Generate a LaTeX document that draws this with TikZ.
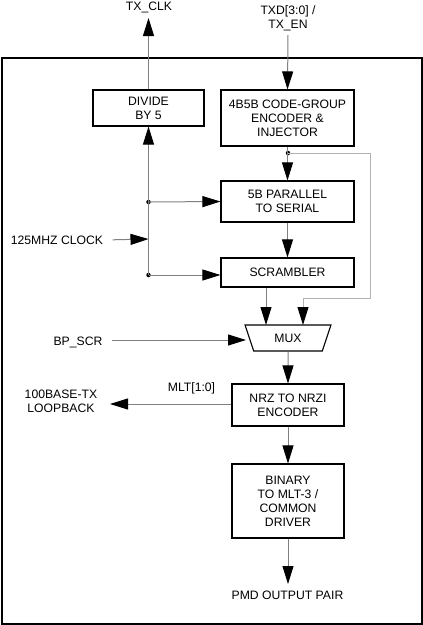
\documentclass[tikz,border=0pt]{standalone}
\usepackage{fontspec}
\setmainfont{Liberation Sans}
\usetikzlibrary{arrows.meta,shapes.geometric}

\begin{document}
\begin{tikzpicture}[x=1pt,y=-1pt,
	font=\fontsize{12.2}{14}\selectfont,
	blk/.style={draw=black,line width=1.1pt,align=center,inner sep=0pt},
	wire/.style={draw=gray,line width=1pt},
	arr/.style={wire,-{Triangle[length=18pt,width=11pt,black]}},
	jdot/.style={circle,fill=black,inner sep=0pt,minimum size=4.5pt}]
		\useasboundingbox (0,0) rectangle (423,625);
		\draw[line width=2pt] (1.5,58) rectangle (421.5,623.5);
		% blocks
		\node (div) at (148.5,108)[blk,minimum width=111,minimum height=36] {DIVIDE\\BY 5};
		\node (enc) at (287.5,118)[blk,minimum width=133,minimum height=56] {4B5B CODE-GROUP\\ENCODER \&\\INJECTOR};
		\node (pts) at (287.5,201.5)[blk,minimum width=133,minimum height=41] {5B PARALLEL\\TO SERIAL};
		\node (scr) at (287.5,272.5)[blk,minimum width=133,minimum height=29] {SCRAMBLER};
		\node (mux) at (288,338)[blk,trapezium,shape border rotate=180,trapezium stretches=true,
			trapezium angle=68,minimum width=86,minimum height=26] {MUX};
		\node (nrz) at (288,405)[blk,minimum width=112,minimum height=42] {NRZ TO NRZI\\ENCODER};
		\node (bin) at (288,501)[blk,minimum width=112,minimum height=74] {BINARY\\TO MLT-3 /\\COMMON\\DRIVER};
		% outside labels
		\node (txclk) at (149,10)[anchor=base] {TX\_CLK};
		\node (txd) at (288,18.5)[align=center,inner sep=1pt] {TXD[3:0] /\\TX\_EN};
		\node (clk) at (57,244)[anchor=base] {125MHZ CLOCK};
		\node (bpscr) at (78,345.7)[anchor=base] {BP\_SCR};
		\node (loop) at (61,401)[align=center] {100BASE-TX\\LOOPBACK};
		\node (mlt) at (191.5,391.3)[anchor=base] {MLT[1:0]};
		\node (pmd) at (287.5,599)[anchor=base] {PMD OUTPUT PAIR};
		% junctions and free ends
		\coordinate (clktip) at (148.5,18);
		\coordinate (txdtop) at (288,35);
		\coordinate (tap) at (288,153);
		\coordinate (fb) at (370,298);
		\coordinate (muxa) at (266,325);
		\coordinate (muxb) at (303,325);
		\coordinate (muxl) at (246,340);
		\coordinate (cka) at (148.5,202);
		\coordinate (ckb) at (148.5,275);
		\coordinate (ckin) at (148.5,239);
		\coordinate (lpend) at (110,404);
		\coordinate (pmdtip) at (288,584);
		\node at (tap)[jdot] {};
		\node at (cka)[jdot] {};
		\node at (ckb)[jdot] {};
		% connectors
		\draw[arr] (div.north) -- (clktip);
		\draw[arr] (txdtop) -- (enc.north);
		\draw[arr] (enc.south) -- (pts.north);
		\draw[arr] (pts.south) -- (scr.north);
		\draw[wire,draw=gray!60,-{Triangle[length=18pt,width=11pt,black]}] (tap) -| (fb) -| (muxb);
		\draw[arr] (scr.south -| muxa) -- (muxa);
		\draw[arr] ([xshift=6]clk.east) -- (ckin);
		\draw[arr] (ckb) -- (div.south);
		\draw[arr] (cka) -- (pts.west);
		\draw[arr] (ckb) -- (ckb -| scr.west);
		\draw[arr] ([xshift=6]bpscr.east |- muxl) -- (muxl);
		\draw[arr] (mux.south) -- (nrz.north);
		\draw[arr] (nrz.west |- lpend) -- (lpend);
		\draw[arr] (nrz.south) -- (bin.north);
		\draw[arr] (bin.south) -- (pmdtip);
\end{tikzpicture}
\end{document}
